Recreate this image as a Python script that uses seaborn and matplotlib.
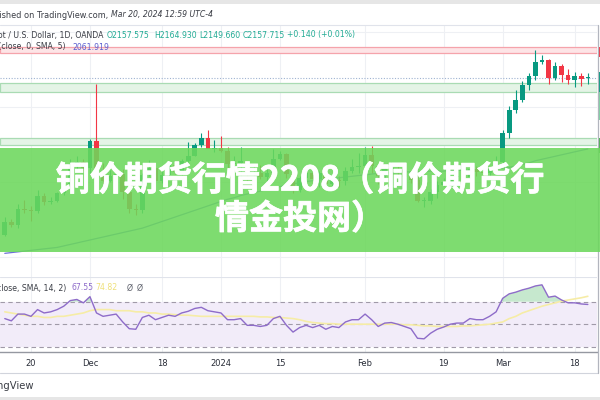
import numpy as np
import pandas as pd
import matplotlib
matplotlib.use('Agg')
import matplotlib.pyplot as plt
import matplotlib.patheffects as pe
import seaborn as sns
from matplotlib.patches import Rectangle
from matplotlib.lines import Line2D

sns.set_theme(style='white')
plt.rcParams['font.family'] = ['DejaVu Sans', 'Noto Sans CJK SC']

# daily bars shown on the chart (Nov 14 2023 .. Mar 20 2024)
days = pd.bdate_range('2023-11-14', '2024-03-20')
days = days[~days.isin(pd.to_datetime(['2023-12-25', '2024-01-01']))]

opens = [1946, 1963, 1959, 1981, 1980, 1978, 1998, 1990, 1992, 2002,
         2014, 2041, 2044, 2036, 2072, 2029, 2019, 2025, 2028, 2004,
         1981, 1979, 2027, 2036, 2019, 2027, 2040, 2031, 2045, 2053,
         2067, 2077, 2062, 2063, 2059, 2042, 2043, 2045, 2028, 2030,
         2024, 2029, 2049, 2055, 2028, 2006, 2023, 2029, 2021, 2029,
         2015, 2020, 2018, 2032, 2037, 2039, 2054, 2039, 2025, 2035,
         2035, 2034, 2024, 2020, 1992, 1992, 2004, 2013, 2017, 2024,
         2025, 2024, 2035, 2031, 2030, 2034, 2044, 2083, 2114, 2128,
         2148, 2160, 2179, 2182, 2158, 2174, 2162, 2155, 2160, 2157.6]
highs = [1970, 1967, 1988, 1993, 1985, 2007, 2002, 1997, 2004, 2018,
         2048, 2052, 2048, 2075, 2150, 2043, 2034, 2035, 2035, 2008,
         1988, 2030, 2047, 2041, 2032, 2043, 2046, 2048, 2071, 2070,
         2083, 2088, 2074, 2079, 2065, 2053, 2064, 2046, 2041, 2040,
         2040, 2062, 2059, 2057, 2030, 2025, 2031, 2033, 2032, 2040,
         2025, 2026, 2037, 2049, 2056, 2065, 2066, 2041, 2039, 2044,
         2043, 2038, 2032, 2032, 1997, 2008, 2019, 2023, 2031, 2030,
         2035, 2041, 2039, 2039, 2037, 2053, 2088, 2120, 2142, 2153,
         2165, 2195, 2189, 2184, 2179, 2176, 2170, 2166, 2164, 2164.9]
lows = [1944, 1956, 1955, 1976, 1965, 1975, 1986, 1988, 1990, 2000,
        2011, 2035, 2032, 2030, 2017, 2010, 2017, 2019, 1995, 1976,
        1973, 1975, 2026, 2015, 2016, 2022, 2028, 2027, 2044, 2052,
        2064, 2064, 2058, 2058, 2030, 2033, 2024, 2017, 2025, 2021,
        2013, 2028, 2047, 2023, 2002, 2004, 2019, 2016, 2011, 2013,
        2010, 2010, 2013, 2030, 2030, 2031, 2030, 2014, 2022, 2030,
        2025, 2021, 2016, 1990, 1984, 1988, 1996, 2012, 2014, 2018,
        2016, 2022, 2026, 2025, 2025, 2030, 2039, 2077, 2110, 2125,
        2142, 2155, 2176, 2150, 2155, 2152, 2150, 2146, 2147, 2149.7]
closes = [1963, 1959, 1981, 1980, 1978, 1998, 1990, 1992, 2002, 2014,
          2041, 2044, 2036, 2072, 2029, 2019, 2025, 2028, 2004, 1981,
          1979, 2027, 2036, 2019, 2027, 2040, 2031, 2045, 2053, 2067,
          2077, 2062, 2063, 2059, 2042, 2043, 2045, 2028, 2030, 2024,
          2029, 2049, 2055, 2028, 2006, 2023, 2029, 2021, 2029, 2015,
          2020, 2018, 2032, 2037, 2039, 2054, 2039, 2025, 2035, 2035,
          2034, 2024, 2020, 1992, 1992, 2004, 2013, 2017, 2024, 2025,
          2024, 2035, 2031, 2030, 2034, 2044, 2083, 2114, 2128, 2148,
          2160, 2179, 2182, 2158, 2174, 2162, 2155, 2160, 2157, 2157.7]
sma = [1921, 1922, 1923, 1924, 1925, 1926, 1927, 1928, 1929, 1931,
       1933, 1935, 1937, 1939, 1941, 1943, 1945, 1947, 1949, 1951,
       1953, 1955, 1958, 1961, 1964, 1967, 1970, 1973, 1976, 1979,
       1982, 1985, 1988, 1991, 1994, 1996, 1999, 2001, 2003, 2005,
       2007, 2009, 2011, 2013, 2015, 2016, 2018, 2019, 2020, 2021,
       2022, 2023, 2024, 2025, 2026, 2027, 2028, 2029, 2029, 2030,
       2030, 2031, 2031, 2031, 2031, 2032, 2032, 2032, 2033, 2033,
       2033, 2033, 2034, 2034, 2034, 2035, 2036, 2037, 2039, 2041,
       2043, 2046, 2048, 2050, 2052, 2054, 2056, 2058, 2060, 2061.9]
rsi = [55, 53, 59, 59, 57, 63, 60, 61, 63, 66,
       71, 72, 69, 74.5, 60, 57, 58, 59, 52, 46,
       45.5, 56, 58, 54, 56, 58, 57, 60, 61.5, 64,
       65, 62, 61, 60, 54, 54, 55, 49, 49, 48,
       49, 55, 57, 49, 43, 47, 49, 47, 49, 45.5,
       48, 47, 52, 54, 54, 59, 54, 48, 51, 51.5,
       50, 48, 46, 37.5, 37, 42, 45.5, 47.5, 50, 51,
       51, 55, 54, 54, 57, 61, 73, 77, 78.5, 80.5,
       82, 84, 85, 74, 75, 71.5, 69, 69, 68, 67.55]
rsi_ma = [61, 60, 59, 58, 57, 57, 56, 56, 57, 57,
          58, 59, 60, 62, 63, 63, 63, 62, 62, 62,
          61, 61, 60, 60, 59, 59, 58.5, 58, 58, 57.5,
          57, 57, 57, 57, 57, 57, 57, 57, 57, 56.5,
          56.5, 56, 56, 55.5, 55, 54, 52.5, 51.5, 51, 50.5,
          50.5, 50, 50, 50, 50, 50, 50, 50, 50, 50,
          50, 49.5, 49.5, 49, 48.5, 48.5, 48, 48, 48, 48,
          48.5, 48.5, 49, 49.5, 50, 51, 52, 55, 57, 60,
          62, 64, 66, 67.5, 69, 70.5, 71.5, 72.5, 73.5, 74.82]

tick_dates = ['2023-11-20', '2023-12-01', '2023-12-18', '2024-01-02', '2024-01-15',
              '2024-02-01', '2024-02-19', '2024-03-01', '2024-03-18']
tick_labels = ['20', 'Dec', '18', '2024', '15', 'Feb', '19', 'Mar', '18']

# drawn zones (price)
red_zone = (2191.8, 2199.9)
green_zones = [(2139.2, 2151.4), (2067.3, 2076.7)]
last_price = 2157.7
grid_prices = [1916.5, 2017.7, 2118.9, 2220.2]

title1 = '铜价期货行情2208（铜价期货行'
title2 = '情金投网）'

W, H = 600, 400
def fx(px):
    return px / W
def fy(py):
    return 1 - py / H

fig = plt.figure(figsize=(6, 4), dpi=100)
fig.patch.set_facecolor('white')

ax = fig.add_axes([0, fy(277), fx(597), (277 - 25) / H])
ax2 = fig.add_axes([0, fy(352), fx(597), (352 - 277) / H])

x = np.arange(len(days))
o = np.array(opens); c = np.array(closes)
hi = np.array(highs); lo = np.array(lows)
cols = np.where(c >= o, '#089981', '#f23645')
ticks = days.get_indexer(pd.to_datetime(tick_dates))

for a in (ax, ax2):
    a.set_facecolor('white')
    for t in ticks:
        a.axvline(t, color='#eef0f4', lw=0.8, zorder=0)
    for s in a.spines.values():
        s.set_visible(False)
    a.set_xlim(-0.73, 90.4)
    a.set_yticks([])

for gp in grid_prices:
    ax.axhline(gp, color='#eef0f4', lw=0.8, zorder=0)

ax.axhspan(*red_zone, facecolor='#fde4e6', edgecolor='#f5a3ab', lw=0.9, zorder=1)
for z in green_zones:
    ax.axhspan(*z, facecolor='#e4f4e6', edgecolor='#a9dbb3', lw=0.9, zorder=1)
ax.axhline(last_price, color='#9fb3d1', lw=0.8, ls=(0, (1, 1.5)), zorder=1)

ax.vlines(x, lo, hi, color=cols, lw=0.8, zorder=2)
ax.bar(x, np.maximum(np.abs(c - o), 1.2), bottom=np.minimum(o, c), width=0.7,
       color=cols, lw=0, zorder=3)
sns.lineplot(x=x, y=sma, ax=ax, color='#6c70d6', lw=0.9, zorder=2)
ax.set_ylim(1889.05, 2229.25)
ax.set_xticks([])
ax.set_xlabel(''); ax.set_ylabel('')

# RSI pane
rsi_a = np.array(rsi)
ax2.axhspan(30, 70, color='#f2ecf9', lw=0, zorder=0)
for lvl in (70, 50, 30):
    ax2.axhline(lvl, color='#a09aa8', lw=0.8, ls=(0, (4, 3)), zorder=1)
ax2.fill_between(x, 70, rsi_a, where=rsi_a > 70, interpolate=True,
                 color='#5cbf73', alpha=0.35, lw=0, zorder=1)
sns.lineplot(x=x, y=rsi_ma, ax=ax2, color='#f6eca6', lw=1.2, zorder=2)
sns.lineplot(x=x, y=rsi, ax=ax2, color='#8e6cc9', lw=1.0, zorder=3)
ax2.set_ylim(25.3, 91.96)
ax2.set_xticks(ticks)
ax2.set_xticklabels(tick_labels)
ax2.tick_params(axis='x', length=0, pad=5, labelsize=6, labelcolor='#2a2e39')
ax2.spines['bottom'].set_visible(True)
ax2.spines['bottom'].set_color('#9598a1')
ax2.spines['bottom'].set_linewidth(1)
ax2.set_xlabel(''); ax2.set_ylabel('')
ax2.axhline(91.96, color='#e0e3eb', lw=0.8)

# frame pieces around the chart
fig.add_artist(Rectangle((0, fy(4)), 1, 4 / H, transform=fig.transFigure,
                         facecolor='#e6e6e6', lw=0))
fig.add_artist(Rectangle((0, 0), 1, 3 / H, transform=fig.transFigure,
                         facecolor='#e6e6e6', lw=0))
fig.add_artist(Line2D([0, fx(597.5)], [fy(24.5)] * 2, color='#e0e3eb', lw=0.8))
fig.add_artist(Line2D([0, fx(597.5)], [fy(373)] * 2, color='#d1d4dc', lw=0.8))
fig.add_artist(Line2D([fx(597.5)] * 2, [fy(373), fy(24.5)], color='#b2b5be', lw=0.9))
for y0, y1, col in [(47, 57, '#f23645'), (72, 92, '#089981'), (92, 120, '#7fd3a3'),
                    (138, 153, '#4caf50')]:
    fig.add_artist(Rectangle((fx(598.5), fy(y1)), fx(2), (y1 - y0) / H,
                             transform=fig.transFigure, facecolor=col, lw=0))

# header and legends (clipped at the left edge, like the screenshot)
fig.text(fx(108), fy(15), 'Published on TradingView.com,', ha='right', va='center',
         fontsize=5.9, color='#3a3d45')
fig.text(fx(111), fy(15), 'Mar 20, 2024 12:59 UTC-4', ha='left', va='center',
         fontsize=5.6, color='#3a3d45', style='italic')
fig.text(fx(103), fy(35), 'Gold Spot / U.S. Dollar, 1D, OANDA', ha='right', va='center',
         fontsize=5.6, color='#3a3d45')
for px, s in [(107, 'O2157.575'), (154, 'H2164.930'), (199, 'L2149.660'),
              (243, 'C2157.715'), (287, '+0.140 (+0.01%)')]:
    fig.text(fx(px), fy(35), s, ha='left', va='center', fontsize=5.6, color='#22ab94')
fig.text(fx(66), fy(47), 'MA (close, 0, SMA, 5)', ha='right', va='center',
         fontsize=5.6, color='#3a3d45')
fig.text(fx(72), fy(47), '2061.919', ha='left', va='center', fontsize=5.6, color='#5b5fd0')
fig.text(fx(66), fy(288), 'RSI (close, SMA, 14, 2)', ha='right', va='center',
         fontsize=5.6, color='#3a3d45')
fig.text(fx(71), fy(288), '67.55', ha='left', va='center', fontsize=5.6, color='#8e6cc9')
fig.text(fx(95), fy(288), '74.82', ha='left', va='center', fontsize=5.6, color='#efe07a')
fig.text(fx(127), fy(288), 'Ø', ha='left', va='center', fontsize=5.6, color='#5d606b')
fig.text(fx(137), fy(288), 'Ø', ha='left', va='center', fontsize=5.6, color='#5d606b')
fig.text(fx(34), fy(386), 'TradingView', ha='right', va='center', fontsize=7.2,
         color='#3a3d45')

# green banner with title
fig.add_artist(Rectangle((0, fy(252)), 1, (252 - 147.5) / H, transform=fig.transFigure,
                         facecolor='#6cd85c', alpha=0.88, lw=0, zorder=5))
for yy, s in [(180, title1), (218.5, title2)]:
    fig.text(0.5, fy(yy), s, ha='center', va='center', color='white', fontsize=24.5,
             fontweight='bold', family=['Noto Sans CJK SC', 'DejaVu Sans'], zorder=6,
             path_effects=[pe.withStroke(linewidth=0.5, foreground='white')])

fig.savefig('out.png', dpi=100)
